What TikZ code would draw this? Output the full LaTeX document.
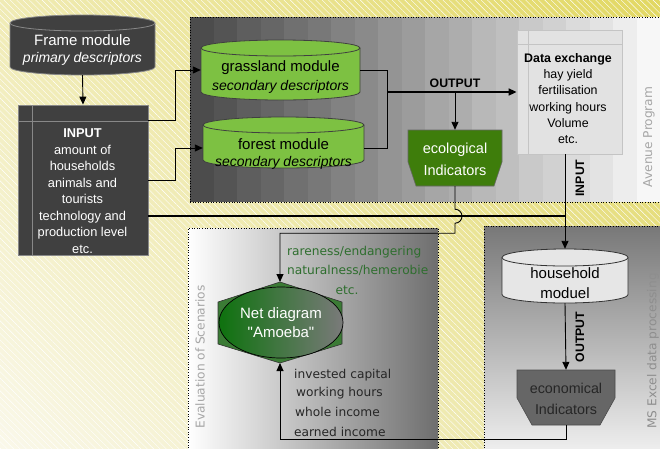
\documentclass[tikz,border=0pt]{standalone}
\usepackage{fontspec}
\setmainfont{Liberation Sans}
\newfontfamily\verd{DejaVu Sans}
\newfontfamily\rawsans[Ligatures=TeXOff]{Liberation Sans}
\usetikzlibrary{arrows.meta,calc,patterns.meta,shapes.geometric,shadings}
\definecolor{bgul}{HTML}{F0EBB4}
\definecolor{bgur}{HTML}{E2D862}
\definecolor{bgll}{HTML}{FAF8EA}
\definecolor{bglr}{HTML}{EAE49C}
\definecolor{darkbox}{HTML}{404040}
\definecolor{darkborder}{HTML}{888888}
\definecolor{modgreen}{HTML}{7DC142}
\definecolor{ecogreen}{HTML}{3E7D0B}
\definecolor{hexgreen}{HTML}{3B7B35}
\definecolor{elgreen}{HTML}{0E720E}
\definecolor{elgray}{HTML}{7A7A7A}
\definecolor{txtgreen}{HTML}{2E6E2E}
\definecolor{econgray}{HTML}{666666}
\definecolor{lblgray}{HTML}{A6A6A6}
\definecolor{lblgraydk}{HTML}{8E8E8E}
\definecolor{dxfill}{HTML}{E2E2E2}
\definecolor{dxborder}{HTML}{C4C4C4}
\definecolor{hhfill}{HTML}{E6E6E6}
\definecolor{evgray}{HTML}{6E6E6E}
\newcommand\myfs[2]{\fontsize{#1}{#2}\selectfont}
% cylinder: x1, ytop, x2, ybot, ry, fill, draw
\newcommand\mycyl[7]{%
  \pgfmathsetmacro\crx{(#3-#1)/2}%
  \filldraw[fill=#6,draw=#7,line width=0.8pt] (#1,-#2-#5) -- (#1,-#4+#5)
    arc[start angle=180,end angle=360,x radius=\crx,y radius=#5] -- (#3,-#2-#5)
    arc[start angle=0,end angle=180,x radius=\crx,y radius=#5] -- cycle;
  \draw[draw=#7,line width=0.8pt] (#1,-#2-#5) arc[start angle=180,end angle=360,x radius=\crx,y radius=#5];}
\tikzset{
  conn/.style={draw=black,line width=0.9pt},
  connb/.style={draw=black,line width=1.6pt},
  arr/.style={-{Triangle[length=8pt,width=7pt]}},
  shapebox/.style={draw=none,inner sep=0pt,rectangle},
  txt/.style={inner sep=0pt,align=center},
  lbl/.style={inner sep=0pt,font=\verd\myfs{12.2}{14},text=lblgray},
  bl/.style={inner sep=0pt,font=\bfseries\myfs{12.3}{14}},
  evtxt/.style={inner sep=0pt,anchor=west,font=\verd\myfs{12.2}{14}},
  region/.style={draw=black,dotted,line width=0.6pt}
}
\begin{document}
\begin{tikzpicture}[x=1pt,y=1pt]
\useasboundingbox (0,0) rectangle (660,-448);
% background
\shade[upper left=bgul,upper right=bgur,lower left=bgll,lower right=bglr] (0,0) rectangle (660,-448);
\fill[pattern={Lines[angle=-45,distance=4.5pt,line width=0.4pt]},pattern color=white,fill opacity=0.35] (0,0) rectangle (660,-448);

% Avenue program region (stepped stripes)
\foreach \i in {0,...,19}{%
  \pgfmathsetmacro\g{int(30+67*\i/19)}%
  \fill[white!\g!black] ({190+\i*23.5},-17) rectangle ({190+(\i+1)*23.5+0.4},-202);}
\draw[region] (190,-202) -- (190,-17) -- (660,-17);
\draw[region] (190,-202) -- (660,-202);
\node[lbl,rotate=90] (avlbl) at (649,-137) {Avenue Program};

% Evaluation region
\shade[left color=white,right color=evgray] (188,-228) rectangle (438,-448);
\draw[region] (188,-448) -- (188,-228) -- (438,-228) -- (438,-448);
\node[lbl,rotate=90] (evlbl) at (200,-357) {Evaluation of Scenarios};

% MS Excel region
\shade[top color=white!47!black,bottom color=white!93!black] (484,-226) rectangle (660,-448);
\draw[region] (484,-448) -- (484,-226) -- (660,-226);
\node[lbl,rotate=90,text=lblgraydk] (mslbl) at (653,-351) {MS Excel data processing};

% Frame module
\mycyl{10}{15}{155}{75}{8}{darkbox}{darkborder}
\node[shapebox,minimum width=145,minimum height=60] (frame) at (82.5,-45) {};
\node[txt,text=white,font=\myfs{15}{17}] (framet) at (82.5,-50.5) {Frame module\\{\myfs{14}{17}\itshape primary descriptors}};

% INPUT box
\node[shapebox,draw=darkborder,fill=darkbox,line width=0.8pt,minimum width=130,minimum height=150] (input) at (83,-180) {};
\draw[darkborder,line width=0.8pt] ([xshift=15]input.north west) -- ([xshift=15]input.south west);
\draw[darkborder,line width=0.8pt] ([yshift=-17]input.north west) -- ([yshift=-17]input.north east);
\node[txt,text=white,font=\myfs{12.8}{16.5}] (inputt) at (82.5,-191) {\textbf{INPUT}\\amount of\\households\\animals and\\tourists\\technology and\\production level\\etc.};

% grassland and forest modules
\mycyl{201}{40}{360}{100}{8}{modgreen}{black!75}
\node[shapebox,minimum width=159,minimum height=60] (grass) at (280.5,-70) {};
\node[txt,font=\myfs{15}{19}] (grasst) at (280.5,-77.5) {grassland module\\{\myfs{14}{19}\itshape secondary descriptors}};
\mycyl{203}{117}{364}{168}{8}{modgreen}{black!75}
\node[shapebox,minimum width=161,minimum height=40] (forest) at (283.5,-148) {};
\node[txt,font=\myfs{15}{17}] (forestt) at (283.5,-154.5) {forest module\\{\myfs{14}{17}\itshape secondary descriptors}};

% Data exchange
\node[shapebox,draw=dxborder,fill=dxfill,line width=0.8pt,minimum width=105,minimum height=124] (dx) at (569.5,-92) {};
\draw[dxborder,line width=0.8pt] ([xshift=12]dx.north west) -- ([xshift=12]dx.south west);
\draw[dxborder,line width=0.8pt] ([yshift=-15]dx.north west) -- ([yshift=-15]dx.north east);
\node[txt,font=\myfs{12.4}{16.2}] (dxt) at (568,-98.5) {\textbf{Data exchange}\\hay yield\\fertilisation\\working hours\\Volume\\etc.};

% ecological indicators
\filldraw[fill=ecogreen,draw=black!60,line width=0.6pt] (408,-130) -- (502,-130) -- (502,-162) -- (494,-186) -- (416,-186) -- (408,-162) -- cycle;
\node[shapebox,minimum width=94,minimum height=56] (eco) at (455,-158) {};
\node[txt,text=white,font=\myfs{14.5}{22}] (ecot) at (455,-159) {ecological\\Indicators};

% household module
\mycyl{502}{249}{628}{303}{8.5}{hhfill}{black!80}
\node[shapebox,minimum width=126,minimum height=54] (hh) at (565,-276) {};
\node[txt,font=\myfs{15}{20}] (hht) at (565,-283) {household\\moduel};

% economical indicators
\filldraw[fill=econgray,draw=black!70,line width=0.6pt] (517,-370) -- (615,-370) -- (615,-398) -- (600,-425) -- (532,-425) -- (517,-398) -- cycle;
\node[shapebox,minimum width=98,minimum height=55] (econ) at (566,-397.5) {};
\node[txt,text=black!85,font=\myfs{14.3}{21}] (econt) at (566,-398.5) {economical\\Indicators};

% Amoeba
\coordinate (hextop) at (280,-282);
\coordinate (hexbot) at (280,-363);
\filldraw[fill=hexgreen,draw=black!80,line width=0.6pt] (hextop) -- (342,-302) -- (342,-344) -- (hexbot) -- (218,-344) -- (218,-302) -- cycle;
\node[ellipse,draw=black,line width=0.7pt,left color=elgreen,right color=elgray,minimum width=124,minimum height=71,inner sep=0pt,text=white,align=center,font=\myfs{15}{19}] (amoeba) at (281,-322.5) {Net diagram\\{\rawsans"Amoeba"}};

% evaluation texts
\node[evtxt,text=txtgreen] (t1) at (287,-252) {rareness/endangering};
\node[evtxt,text=txtgreen] (t2) at (287,-270) {naturalness/hemerobie};
\node[inner sep=0pt,font=\verd\myfs{12.2}{14},text=txtgreen] (t3) at (347,-290) {etc.};
\node[evtxt,text=black!85] (t4) at (294,-375) {invested capital};
\node[evtxt,text=black!85] (t5) at (296,-393) {working hours};
\node[evtxt,text=black!85] (t6) at (295,-412) {whole income};
\node[evtxt,text=black!85] (t7) at (294,-432) {earned income};

% connectors
\draw[conn,arr] (frame.south) -- (input.north);
\draw[conn,arr] ([yshift=60]input.east) -- ++(27,0) |- (grass.west);
\draw[conn,arr] (input.east) -- ++(27,0) |- (forest.west);
\draw[conn] (grass.east) -- ++(27,0) |- (forest.east);
\coordinate (merge) at (387,-92);
\draw[connb,arr] (merge) -- (dx.west);
\node[bl] (outlbl) at (455,-83) {OUTPUT};
\draw[conn,arr] (eco.north |- merge) -- (eco.north);
\coordinate (join) at (565,-216);
\draw[connb] ([yshift=-36]input.east) -- (join);
\draw[conn,arr] (dx.south -| hh.north) -- (hh.north);
\node[bl,rotate=90] (inlbl) at (580,-178) {INPUT};
\draw[conn,arr] (eco.south) -- ++(0,-23) arc[start angle=90,end angle=-90,radius=7] -- ++(0,-10) -| (hextop);
\draw[conn,arr] (hh.south) -- (econ.north);
\node[bl,rotate=90] (out2lbl) at (580,-337) {OUTPUT};
\draw[conn,arr] (econ.south) -- ++(0,-14) -| (hexbot);
\end{tikzpicture}
\end{document}
